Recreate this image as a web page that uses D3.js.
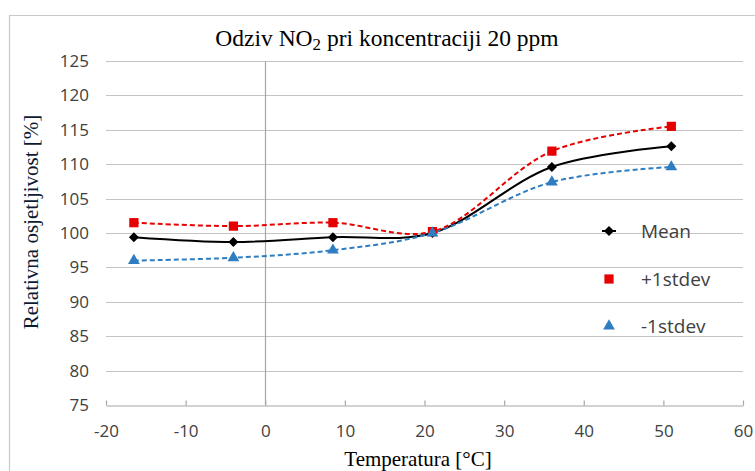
<!DOCTYPE html>
<html><head><meta charset="utf-8">
<script src="https://cdn.jsdelivr.net/npm/d3@7"></script>
<style>body{margin:0;background:#fff}svg{display:block}</style>
</head><body>
<script>
const temps = [-16.5, -4, 8.5, 21, 36, 51];
const meanVals = [99.4, 98.7, 99.4, 100.0, 109.6, 112.6];
const plusVals = [101.5, 101.0, 101.5, 100.2, 111.9, 115.5];
const minusVals = [96.0, 96.4, 97.5, 100.0, 107.4, 109.6];
const seriesNames = ["Mean", "+1stdev", "-1stdev"];
const xTicks = [-20, -10, 0, 10, 20, 30, 40, 50, 60];
const yTicks = [75, 80, 85, 90, 95, 100, 105, 110, 115, 120, 125];

const W = 755, H = 471;
const svg = d3.select("body").append("svg").attr("width", W).attr("height", H);
const x = d3.scaleLinear().domain([-20, 60]).range([106, 743]);
const y = d3.scaleLinear().domain([75, 125]).range([405, 61]);

// frame
svg.append("path").attr("d", `M9.5,${H} V15.5 H${W}`).attr("fill", "none").attr("stroke", "#c8c8c8").attr("stroke-width", 1.2);

// gridlines
svg.append("g").selectAll("line").data(yTicks.filter(t => t > 75)).join("line")
  .attr("x1", x(-20)).attr("x2", x(60)).attr("y1", d => Math.round(y(d)) + 0.5).attr("y2", d => Math.round(y(d)) + 0.5)
  .attr("stroke", "#c4c4c4").attr("stroke-width", 1.2);

// x axis
const xa = svg.append("g").attr("transform", `translate(0,${Math.round(y(75)) + 0.5})`)
  .call(d3.axisBottom(x).tickValues(xTicks).tickSize(0).tickPadding(19).tickFormat(d => String(d)));
xa.select(".domain").attr("stroke", "#a6a6a6").attr("stroke-width", 1.2);
xa.selectAll(".tick line").remove();
xa.selectAll(".tick").append("line").attr("y1", -5).attr("y2", 0).attr("stroke", "#a6a6a6").attr("stroke-width", 1.2);
xa.selectAll("text").attr("font-family", "Open Sans, sans-serif").attr("font-size", 17).attr("fill", "#404040");

// y axis labels
const ya = svg.append("g").attr("transform", `translate(${x(-20)},0)`)
  .call(d3.axisLeft(y).tickValues(yTicks).tickSize(0).tickPadding(17).tickFormat(d => String(d)));
ya.select(".domain").remove();
ya.selectAll("text").attr("font-family", "Open Sans, sans-serif").attr("font-size", 17).attr("fill", "#404040");

// vertical axis at x=0
svg.append("line").attr("x1", Math.round(x(0)) + 0.5).attr("x2", Math.round(x(0)) + 0.5)
  .attr("y1", y(125)).attr("y2", y(75)).attr("stroke", "#a6a6a6").attr("stroke-width", 1.2);

const series = [
  {name: seriesNames[0], vals: meanVals, color: "#000000", dash: null, sym: d3.symbolSquare, size: 50, rot: 45},
  {name: seriesNames[1], vals: plusVals, color: "#e60000", dash: "5,3", sym: d3.symbolSquare, size: 85, rot: 0},
  {name: seriesNames[2], vals: minusVals, color: "#2e7dc0", dash: "5,3", sym: d3.symbolTriangle, size: 60, rot: 0}
];

const line = d3.line().x(d => x(d[0])).y(d => y(d[1])).curve(d3.curveCatmullRom.alpha(0.5));
series.forEach(s => {
  svg.append("path").attr("d", line(temps.map((t, i) => [t, s.vals[i]]))).attr("fill", "none").attr("stroke", s.color)
    .attr("stroke-width", 2).attr("stroke-dasharray", s.dash);
});
series.forEach(s => {
  svg.append("g").selectAll("path").data(temps.map((t, i) => [t, s.vals[i]])).join("path")
    .attr("d", d3.symbol().type(s.sym).size(s.size))
    .attr("transform", d => `translate(${x(d[0])},${y(d[1])}) rotate(${s.rot})`).attr("fill", s.color);
});

// legend
const legY = [231, 279, 326];
series.forEach((s, i) => {
  const g = svg.append("g").attr("transform", `translate(609,${legY[i]})`);
  if (i === 0) g.append("line").attr("x1", -7).attr("x2", 7).attr("stroke", "#000").attr("stroke-width", 2);
  g.append("path").attr("d", d3.symbol().type(s.sym).size(s.size)).attr("transform", `rotate(${s.rot})`).attr("fill", s.color);
  g.append("text").attr("x", 32).attr("dy", "0.35em").text(s.name)
    .attr("font-family", "Open Sans, sans-serif").attr("font-size", 19).attr("fill", "#404040");
});

// title
const title = svg.append("text").attr("x", 387).attr("y", 46).attr("text-anchor", "middle")
  .attr("font-family", "Liberation Serif, serif").attr("font-size", 23.5).attr("fill", "#000");
title.append("tspan").text("Odziv NO");
title.append("tspan").text("2").attr("font-size", 17).attr("dy", 4);
title.append("tspan").text(" pri koncentraciji 20 ppm").attr("dy", -4);

// axis titles
svg.append("text").attr("x", 418).attr("y", 466).attr("text-anchor", "middle")
  .attr("font-family", "Liberation Serif, serif").attr("font-size", 21).attr("fill", "#000").text("Temperatura [°C]");
svg.append("text").attr("transform", "translate(38,222) rotate(-90)").attr("text-anchor", "middle")
  .attr("font-family", "Liberation Serif, serif").attr("font-size", 21).attr("fill", "#0d1a33").text("Relativna osjetljivost [%]");
</script>
</body></html>
